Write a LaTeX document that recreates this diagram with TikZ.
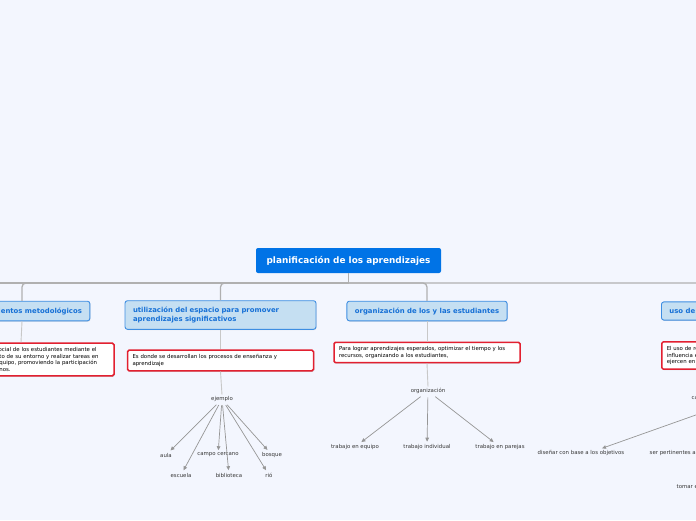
\documentclass[tikz,border=0pt]{standalone}
\usepackage{fontspec}
\setmainfont{DejaVu Sans}
\usetikzlibrary{positioning,arrows.meta,shadows}
\definecolor{canvas}{RGB}{243,246,254}
\definecolor{rootblue}{RGB}{0,115,230}
\definecolor{topicfill}{RGB}{197,223,242}
\definecolor{topicline}{RGB}{62,142,226}
\definecolor{topictext}{RGB}{22,112,214}
\definecolor{descline}{RGB}{226,32,48}
\definecolor{linkgray}{RGB}{176,176,176}
\definecolor{labelgray}{RGB}{55,55,55}

\begin{document}
\begin{tikzpicture}[x=1pt,y=-1pt,
  root/.style={fill=rootblue, rounded corners=2pt, text=white,
    font=\fontsize{8.9}{10}\selectfont\bfseries, minimum width=185pt, minimum height=25pt},
  topic/.style={fill=topicfill, draw=topicline, line width=0.9pt, rounded corners=2.5pt,
    text=topictext, font=\fontsize{6.9}{9}\selectfont\bfseries, align=left,
    inner xsep=8pt, inner ysep=6.3pt, drop shadow={shadow xshift=0.6pt, shadow yshift=-0.8pt, opacity=0.25}},
  desc/.style={fill=white, draw=descline, line width=1.5pt, rounded corners=1.5pt,
    font=\fontsize{5.4}{6.6}\selectfont, align=left, text width=176pt,
    inner xsep=5pt, inner ysep=4.3pt, drop shadow={shadow xshift=0.8pt, shadow yshift=-1pt, opacity=0.3}},
  leaf/.style={font=\fontsize{5.4}{6}\selectfont, text=labelgray, inner sep=1.5pt},
  link/.style={draw=linkgray, line width=1.3pt, rounded corners=4pt},
  sublink/.style={draw=linkgray!70, line width=0.9pt},
  arr/.style={draw=linkgray!85!black, line width=0.7pt, shorten <=2pt, shorten >=1pt,
    -{Triangle[length=4pt,width=3.6pt]}}
]
  \useasboundingbox (0,0) rectangle (696,520);
  \fill[canvas] (0,0) rectangle (696,520);
  \clip (0,0) rectangle (696,520);

  \node[root] (plan) at (348.5,260.5) {planificación de los aprendizajes};
  \coordinate (spine) at (348.5,283);
  \coordinate (spineW) at (-30,283);

  \node[topic] (met) at (22,311) {procedimientos metodológicos};
  \node[topic, text width=175pt] (esp) at (220.5,315) {utilización del espacio para promover\\aprendizajes significativos};
  \node[topic] (org) at (427,311) {organización de los y las estudiantes};
  \node[topic, anchor=west] (rec) at (661,311) {uso de recursos didácticos};

  \node[desc] (dmet) at (21,359.5) {Fomentar el desarrollo social de los estudiantes mediante el\\conocimiento del contexto de su entorno y realizar tareas en\\conjunto, el trabajo en equipo, promoviendo la participación\\activa de todos los alumnos.};
  \node[desc] (desp) at (220.5,360.5) {Es donde se desarrollan los procesos de enseñanza y\\aprendizaje};
  \node[desc] (dorg) at (427,352.5) {Para lograr aprendizajes esperados, optimizar el tiempo y los\\recursos, organizando a los estudiantes,};
  \node[desc, anchor=west] (drec) at (661,355.5) {El uso de recursos didácticos tiene gran\\influencia en el aprendizaje por la acción que\\ejercen en los estudiantes.};

  \draw[link] (plan.south) -- (spine);
  \draw[link] (spine) -- (spineW);
  \draw[link] (spine) -| (met.north);
  \draw[link] (spine) -| (esp.north);
  \draw[link] (spine) -| (org.north);
  \draw[link] (spine) -| (rec.north);
  \draw[sublink] (met.south) -- (dmet.north);
  \draw[sublink] (esp.south) -- (desp.north);
  \draw[sublink] (org.south) -- (dorg.north);
  \draw[sublink] (rec.south) -- (drec.north);

  \node[leaf] (ej) at (222,399) {ejemplo};
  \node[leaf] (aula) at (166,455) {aula};
  \node[leaf] (esc) at (181,475) {escuela};
  \node[leaf] (campo) at (218,455) {campo cercano};
  \node[leaf] (bib) at (229,475) {biblioteca};
  \node[leaf] (bos) at (272,455) {bosque};
  \node[leaf] (rio) at (269,475) {rió};
  \draw[sublink] (desp.south) -- (ej.north);
  \foreach \k in {aula,esc,campo,bib,bos,rio}
    \draw[arr] (ej) -- (\k);

  \node[leaf] (orgz) at (428,391) {organización};
  \node[leaf] (equ) at (355,447) {trabajo en equipo};
  \node[leaf] (ind) at (427,447) {trabajo individual};
  \node[leaf] (par) at (500,447) {trabajo en parejas};
  \draw[sublink] (dorg.south) -- (orgz.north);
  \foreach \k in {equ,ind,par}
    \draw[arr] (orgz) -- (\k);

  \node[leaf, anchor=west] (car) at (690,397) {características de los materiales};
  \node[leaf] (dis) at (581,453) {diseñar con base a los objetivos};
  \node[leaf, anchor=west] (ser) at (648,453) {ser pertinentes a los contenidos};
  \node[leaf, anchor=west] (tom) at (675,486) {tomar en cuenta el contexto};
  \draw[sublink] (drec.south) -- (car.north);
  \draw[arr] (car.south) -- ([xshift=20pt]dis.north);
\end{tikzpicture}
\end{document}
